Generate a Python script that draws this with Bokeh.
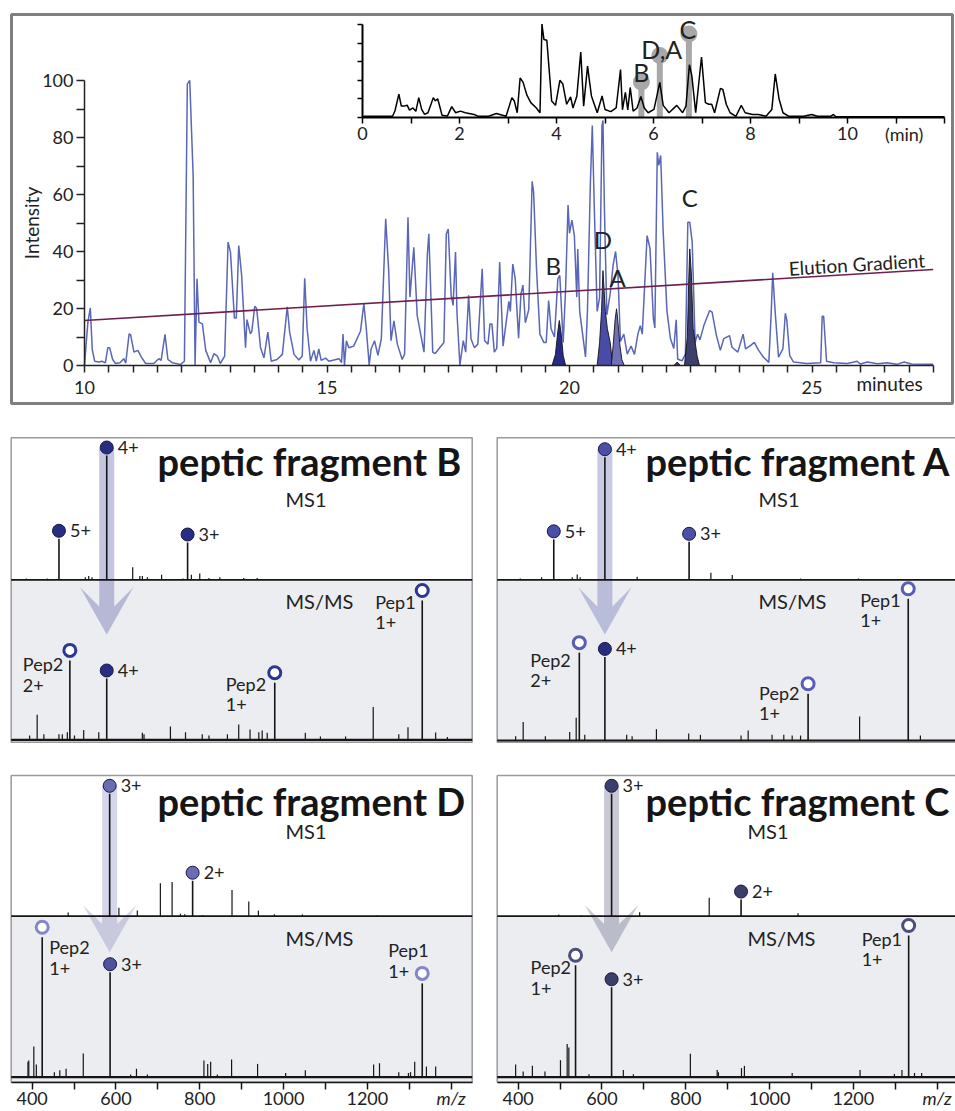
from bokeh.plotting import figure
from bokeh.models import Range1d, FixedTicker, LinearAxis
from bokeh.layouts import column, row
from bokeh.embed import file_html
from bokeh.resources import INLINE
from bokeh.core.properties import value

FONT = "Lato"
INK = "#222222"

# ---------------- chromatogram data ----------------
chrom_time = [
    10.00, 10.07, 10.12, 10.16, 10.21, 10.30, 10.36, 10.43, 10.48, 10.52,
    10.58, 10.64, 10.73, 10.81, 10.85, 10.92, 10.95, 11.02, 11.10, 11.17,
    11.26, 11.43, 11.53, 11.58, 11.66, 11.72, 11.81, 11.98, 12.06, 12.12,
    12.17, 12.24, 12.28, 12.32, 12.36, 12.43, 12.50, 12.60, 12.67, 12.74,
    12.80, 12.89, 12.96, 13.01, 13.09, 13.13, 13.18, 13.24, 13.32, 13.35,
    13.42, 13.45, 13.51, 13.55, 13.63, 13.70, 13.78, 13.85, 13.97, 14.08,
    14.18, 14.23, 14.32, 14.42, 14.49, 14.54, 14.59, 14.66, 14.73, 14.78,
    14.83, 14.88, 14.97, 15.04, 15.14, 15.25, 15.30, 15.33, 15.36, 15.40,
    15.45, 15.55, 15.69, 15.76, 15.81, 15.87, 15.91, 15.98, 16.05, 16.12,
    16.21, 16.27, 16.32, 16.38, 16.45, 16.55, 16.60, 16.67, 16.71, 16.79,
    16.86, 17.00, 17.07, 17.10, 17.18, 17.23, 17.41, 17.46, 17.50, 17.56,
    17.60, 17.65, 17.68, 17.74, 17.81, 17.86, 17.92, 17.97, 18.04, 18.11,
    18.20, 18.25, 18.32, 18.36, 18.40, 18.45, 18.50, 18.56, 18.63, 18.75,
    18.78, 18.83, 18.88, 18.95, 19.00, 19.04, 19.09, 19.16, 19.23, 19.26,
    19.32, 19.39, 19.47, 19.52, 19.57, 19.62, 19.69, 19.76, 19.80, 19.87,
    19.92, 19.97, 20.00, 20.05, 20.10, 20.15, 20.17, 20.21, 20.33, 20.37,
    20.43, 20.47, 20.51, 20.57, 20.62, 20.67, 20.69, 20.72, 20.77, 20.84,
    20.90, 20.95, 21.00, 21.05, 21.12, 21.19, 21.27, 21.34, 21.41, 21.46,
    21.50, 21.60, 21.66, 21.73, 21.76, 21.81, 21.84, 21.88, 21.93, 22.01,
    22.08, 22.15, 22.20, 22.23, 22.32, 22.39, 22.44, 22.48, 22.53, 22.59,
    22.64, 22.69, 22.77, 22.89, 22.94, 23.03, 23.11, 23.18, 23.30, 23.35,
    23.47, 23.58, 23.63, 23.73, 23.81, 23.90, 24.00, 24.11, 24.16, 24.19,
    24.24, 24.31, 24.40, 24.45, 24.48, 24.54, 24.62, 24.76, 24.89, 25.18,
    25.21, 25.24, 25.30, 25.45, 25.73, 25.93, 26.00, 26.14, 26.35, 26.55,
    26.75, 26.90, 27.05, 27.50]
chrom_int = [
    0.2, 15.2, 20.2, 5.6, 1.5, 1.2, 1.5, 0.9, 6.2, 6.2,
    2.1, 0.7, 1.0, 2.4, 0.8, 11.1, 10.8, 4.7, 5.3, 3.0,
    0.7, 0.7, 2.4, 1.8, 10.9, 2.1, 1.0, 0.4, 1.5, 98.8,
    100.0, 66.7, 0.2, 30.4, 15.2, 14.6, 5.3, 1.0, 4.2, 3.3,
    0.7, 3.3, 43.3, 39.8, 16.7, 16.7, 42.1, 31.6, 6.2, 16.1,
    11.1, 12.0, 20.8, 20.0, 6.2, 2.7, 11.7, 1.5, 2.1, 3.9,
    20.6, 11.7, 3.9, 1.9, 3.3, 30.6, 12.9, 1.5, 5.3, 1.5,
    5.8, 1.8, 2.6, 1.5, 1.9, 2.4, 1.0, 11.0, 0.2, 8.7,
    6.2, 6.8, 12.0, 21.7, 12.9, 0.2, 5.8, 8.7, 3.6, 9.3,
    51.5, 34.0, 8.7, 15.7, 7.5, 2.1, 4.0, 52.0, 24.0, 41.5,
    17.5, 4.7, 39.2, 46.2, 4.7, 4.2, 8.1, 46.2, 47.9, 24.6,
    21.1, 39.8, 18.4, 0.2, 8.7, 4.7, 24.6, 9.3, 6.2, 7.5,
    33.9, 8.7, 7.5, 14.6, 14.6, 4.7, 6.0, 36.3, 6.8, 22.5,
    19.0, 35.6, 30.6, 9.6, 25.3, 28.2, 15.0, 19.6, 64.6, 60.8,
    33.9, 11.0, 8.1, 8.1, 22.8, 12.9, 10.0, 30.4, 31.6, 8.1,
    27.1, 56.3, 46.4, 51.0, 45.6, 24.0, 40.9, 19.0, 3.0, 19.0,
    63.7, 84.2, 56.3, 19.0, 23.7, 84.2, 86.0, 55.0, 17.8, 25.3,
    35.3, 40.0, 31.6, 8.4, 11.0, 4.0, 6.8, 3.9, 11.0, 14.0,
    11.0, 45.6, 41.0, 16.4, 13.2, 74.8, 70.2, 73.7, 47.6, 19.0,
    9.6, 6.0, 16.0, 2.3, 1.6, 4.0, 50.3, 50.3, 43.3, 8.1,
    11.0, 9.0, 14.0, 19.3, 18.7, 10.5, 5.3, 9.4, 10.5, 6.4,
    4.7, 11.0, 5.8, 7.0, 8.1, 5.3, 2.9, 1.1, 19.0, 32.5,
    19.0, 2.9, 5.8, 18.3, 16.0, 3.5, 1.2, 1.0, 0.7, 1.0,
    17.3, 17.3, 1.5, 1.0, 0.7, 1.5, 0.5, 1.2, 0.6, 1.0,
    0.4, 1.2, 0.5, 0.4]
assert len(chrom_time) == len(chrom_int)

gradient_time = [10.0, 27.5]
gradient_level = [15.8, 33.7]

peak_names = ["B", "D", "A", "C"]
peakB_time = [19.64, 19.71, 19.76, 19.79, 19.83, 19.87, 19.92]
peakB_int = [0, 3.9, 12.1, 15.8, 11.0, 3.5, 0]
peakD_time = [20.57, 20.62, 20.66, 20.69, 20.74, 20.78, 20.84, 20.89]
peakD_int = [0, 8, 19, 33.3, 19, 13, 8, 0]
peakA_time = [20.86, 20.90, 20.94, 20.97, 21.00, 21.04, 21.08, 21.13]
peakA_int = [0, 7, 16, 19.9, 15, 7, 2, 0]
peakC_time = [22.37, 22.43, 22.46, 22.48, 22.51, 22.55, 22.63, 22.68]
peakC_int = [0, 10, 31, 40.9, 33, 13, 3.5, 0]
peakC_minor_time = [22.15, 22.22, 22.29]
peakC_minor_int = [0, 1.2, 0]

main_xticks = [10, 15, 20, 25]
main_xticks_minor = [10.5, 11, 11.5, 12, 12.5, 13, 13.5, 14, 14.5, 15.5, 16, 16.5, 17, 17.5,
                     18, 18.5, 19, 19.5, 20.5, 21, 21.5, 22, 22.5, 23, 23.5, 24, 24.5,
                     25.5, 26, 26.5, 27, 27.5]
main_yticks = [0, 20, 40, 60, 80, 100]
main_yticks_minor = [10, 30, 50, 70, 90]

# ---------------- inset (full run) ----------------
inset_time = [
    0.00, 0.62, 0.67, 0.75, 0.80, 0.86, 0.92, 0.97, 1.04, 1.10,
    1.16, 1.22, 1.28, 1.35, 1.42, 1.46, 1.50, 1.55, 1.60, 1.64,
    1.75, 1.84, 1.92, 2.02, 2.12, 2.30, 2.38, 2.60, 2.76, 2.96,
    3.08, 3.13, 3.19, 3.25, 3.31, 3.39, 3.47, 3.58, 3.66, 3.70,
    3.74, 3.80, 3.90, 3.98, 4.07, 4.13, 4.21, 4.29, 4.34, 4.42,
    4.50, 4.56, 4.64, 4.72, 4.84, 4.94, 5.00, 5.12, 5.23, 5.32,
    5.36, 5.42, 5.47, 5.52, 5.58, 5.66, 5.74, 5.81, 5.89, 6.01,
    6.13, 6.20, 6.32, 6.48, 6.60, 6.67, 6.74, 6.79, 6.87, 6.99,
    7.07, 7.14, 7.20, 7.26, 7.38, 7.43, 7.50, 7.58, 7.70, 7.81,
    7.89, 8.04, 8.16, 8.32, 8.44, 8.51, 8.59, 8.67, 8.79, 9.10,
    9.26, 9.38, 9.65, 9.71, 9.76, 12.00]
inset_int = [
    0.05, 0.05, 0.35, 1.25, 0.6, 0.6, 0.65, 0.38, 0.5, 0.32,
    1.06, 0.42, 0.15, 0.24, 0.75, 1.06, 0.88, 1.0, 0.51, 0.1,
    0.06, 0.57, 0.24, 0.33, 0.24, 0.15, 0.05, 0.05, 0.2, 0.05,
    1.06, 0.88, 0.24, 2.12, 1.9, 1.19, 0.79, 0.51, 0.24, 5.04,
    4.21, 4.17, 0.88, 0.64, 2.0, 1.8, 0.7, 1.1, 0.5, 1.15,
    3.53, 0.6, 2.77, 1.15, 0.24, 1.15, 0.42, 0.3, 0.5, 2.58,
    0.4, 1.34, 0.4, 1.61, 0.33, 0.5, 1.12, 0.5, 0.24, 0.42,
    1.89, 0.64, 0.24, 0.64, 0.24, 0.6, 2.84, 2.25, 0.24, 3.26,
    0.79, 0.7, 0.7, 0.24, 1.56, 1.5, 0.7, 0.24, 0.05, 0.64,
    0.24, 0.15, 0.15, 0.05, 0.42, 2.34, 0.97, 0.24, 0.05, 0.05,
    0.15, 0.05, 0.05, 0.15, 0.02, 0.02]
assert len(inset_time) == len(inset_int)

inset_mark_time = [5.75, 6.13, 6.73]
inset_mark_height = [1.9, 3.34, 4.51]
inset_mark_label = ["B", "D,A", "C"]
inset_xticks = [0, 2, 4, 6, 8, 10]
inset_xticks_minor = [1, 3, 5, 7, 9, 11, 12]
inset_yticks = [0, 1, 2, 3, 4, 5]

# ---------------- spectra data ----------------
B_ms1_mz = [386, 436, 527, 535, 543, 640, 657, 663, 675, 709, 760, 780, 800, 822, 848, 905, 937]
B_ms1_int = [1, 1, 2, 3, 2, 10, 3, 3, 2, 4, 1, 4, 5, 1.5, 2, 1.5, 1.5]
B_ms1_ion_mz = [464, 578, 771]
B_ms1_ion_int = [33, 100, 30]
B_ms1_ion_lab = ["5+", "4+", "3+"]
B_msms_mz = [394, 412, 428, 464, 472, 484, 501, 523, 559, 663, 667, 730, 766, 806, 822, 866, 893,
             920, 941, 949, 961, 1052, 1088, 1148, 1214, 1275, 1297, 1363, 1391]
B_msms_int = [3, 18, 4, 4, 4, 5.5, 3, 7, 5.5, 5, 4, 9.6, 5.5, 4, 3, 4, 11, 7.4, 5.5, 6.7, 5, 5,
              2.4, 2.4, 23.5, 4, 9, 5.3, 2]
B_msms_ion_mz = [578]
B_msms_ion_int = [44]
B_msms_ion_lab = ["4+"]
B_pep_mz = [490, 979, 1331]
B_pep_int = [57, 41, 100]
B_pep_name = ["Pep2", "Pep2", "Pep1"]
B_pep_charge = ["2+", "1+", "1+"]

A_ms1_mz = [405, 456, 529, 541, 548, 684, 860, 911, 1074, 1212]
A_ms1_int = [1, 2, 2, 4.3, 2, 2.4, 5.7, 4, 1, 1]
A_ms1_ion_mz = [485, 607, 808]
A_ms1_ion_int = [33, 100, 31]
A_ms1_ion_lab = ["5+", "4+", "3+"]
A_msms_mz = [394, 412, 465, 523, 538.5, 559, 659, 672, 730, 807, 835, 932, 949, 1006, 1034, 1054,
             1074, 1215, 1360]
A_msms_int = [3, 13, 3, 6, 16, 4, 4, 3, 8, 5, 4, 3.5, 7, 4, 4, 3.5, 3.5, 17, 3.5]
A_msms_ion_mz = [607]
A_msms_ion_int = [59]
A_msms_ion_lab = ["4+"]
A_pep_mz = [546, 1092, 1331]
A_pep_int = [62, 33, 100]
A_pep_name = ["Pep2", "Pep2", "Pep1"]
A_pep_charge = ["2+", "1+", "1+"]

D_ms1_mz = [486, 607, 651, 706, 734, 754, 764, 807, 877, 917, 940, 978, 1045, 1223]
D_ms1_int = [3, 7, 4.6, 27, 28, 2, 1.5, 1, 21.5, 12, 4.6, 1.5, 1.5, 0.5]
D_ms1_ion_mz = [585, 783]
D_ms1_ion_int = [100, 29]
D_ms1_ion_lab = ["3+", "2+"]
D_msms_mz = [390, 392, 404, 410, 453, 466, 481, 522, 635, 649, 675, 810, 819, 826, 842, 876, 938,
             1005, 1052, 1215, 1229, 1275, 1298, 1303, 1313, 1341, 1363]
D_msms_int = [11, 12, 22, 9, 3.6, 5, 6, 17, 2, 6, 2, 12, 9.5, 11, 2, 12.6, 9.5, 3, 5, 9, 10, 3.6,
              3, 3.6, 11, 7.6, 7.6]
D_msms_ion_mz = [586]
D_msms_ion_int = [75]
D_msms_ion_lab = ["3+"]
D_pep_mz = [424, 1331]
D_pep_int = [100, 67]
D_pep_name = ["Pep2", "Pep1"]
D_pep_charge = ["1+", "1+"]

C_ms1_mz = [497, 550, 690, 856, 1068]
C_ms1_int = [1.4, 0.6, 3.3, 15, 2.5]
C_ms1_ion_mz = [623, 932]
C_ms1_ion_int = [100, 13.6]
C_ms1_ion_lab = ["3+", "2+"]
C_msms_mz = [394, 412, 434, 464, 501, 517, 521, 569, 651, 675, 811, 875, 878, 933, 940, 1054, 1216,
             1298, 1316, 1346, 1363]
C_msms_int = [9, 4, 8, 4, 12, 23.5, 21, 2, 5, 2, 16.5, 5, 3.5, 6.4, 8, 3, 5, 2.3, 5, 3, 3]
C_msms_ion_mz = [623]
C_msms_ion_int = [63.5]
C_msms_ion_lab = ["3+"]
C_pep_mz = [537, 1332]
C_pep_int = [79, 100]
C_pep_name = ["Pep2", "Pep1"]
C_pep_charge = ["1+", "1+"]

mz_ticks = [400, 600, 800, 1000, 1200]
mz_ticks_minor = [500, 700, 900, 1100, 1300, 1400]
mz_axis_label = "m/z"


def style_axis(ax, tick_out, font_size, line_width=1.5, color=INK):
    ax.axis_line_width = line_width
    ax.axis_line_color = color
    ax.major_tick_in = 0
    ax.minor_tick_in = 0
    ax.major_tick_out = tick_out
    ax.minor_tick_out = tick_out
    ax.major_tick_line_width = 1.5
    ax.minor_tick_line_width = 1.5
    ax.major_tick_line_color = color
    ax.minor_tick_line_color = color
    ax.major_label_text_font = FONT
    ax.major_label_text_font_size = font_size
    ax.major_label_text_color = INK


# =============== TOP FIGURE (frame = grey bordered box) ===============
PX_MIN = 48.5      # px per minute (both time axes)
PX_INT = 2.85      # px per intensity unit
BOX_L, BOX_R, BOX_T, BOX_B = 11, 952, 14, 403     # page px of the grey box
AX_X0, AX_Y0 = 84, 365                            # page px of (10 min, 0)
INSET_X0, INSET_Y0 = 362, 116.7                   # page px of inset origin
INSET_PX = 18.47

xs0 = 10 - (AX_X0 - BOX_L) / PX_MIN
xs1 = 10 + (BOX_R - AX_X0) / PX_MIN
ys0 = -(BOX_B - AX_Y0) / PX_INT
ys1 = (AX_Y0 - BOX_T) / PX_INT
ishift = 10 + (INSET_X0 - AX_X0) / PX_MIN

top = figure(width=955, height=408, output_backend="svg", toolbar_location=None, title=None,
             x_range=Range1d(xs0, xs1), y_range=Range1d(ys0, ys1),
             min_border_left=BOX_L, min_border_right=955 - BOX_R,
             min_border_top=BOX_T, min_border_bottom=408 - BOX_B)
top.extra_x_ranges = {"ix": Range1d(xs0 - ishift, xs1 - ishift)}
top.extra_y_ranges = {"iy": Range1d(-(BOX_B - INSET_Y0) / INSET_PX, (INSET_Y0 - BOX_T) / INSET_PX)}
top.grid.visible = False
top.outline_line_color = "#7f7f7f"
top.outline_line_width = 3

xa = top.xaxis[0]
style_axis(xa, 7, "18px")
xa.fixed_location = 0
xa.ticker = FixedTicker(ticks=main_xticks, minor_ticks=main_xticks_minor)
xa.bounds = (10, 27.5)
xa.major_label_standoff = 8
ya = top.yaxis[0]
style_axis(ya, 8, "18px")
ya.fixed_location = 10
ya.ticker = FixedTicker(ticks=main_yticks, minor_ticks=main_yticks_minor)
ya.bounds = (0, 100)
ya.major_label_standoff = 3
ya.axis_label = "Intensity"
ya.axis_label_text_font = FONT
ya.axis_label_text_font_size = "19px"
ya.axis_label_text_font_style = "normal"
ya.axis_label_text_color = INK
ya.axis_label_standoff = -4

# inset axes
ixa = LinearAxis(x_range_name="ix", y_range_name="iy", fixed_location=0,
                 ticker=FixedTicker(ticks=inset_xticks, minor_ticks=inset_xticks_minor),
                 bounds=(0, 12))
style_axis(ixa, 6, "18px", line_width=2, color="black")
ixa.major_label_standoff = 4
top.add_layout(ixa, "below")
iya = LinearAxis(x_range_name="ix", y_range_name="iy", fixed_location=0,
                 ticker=FixedTicker(ticks=inset_yticks, minor_ticks=[]), bounds=(0, 5))
style_axis(iya, 5, "10px", line_width=2, color="black")
iya.major_label_text_alpha = 0
top.add_layout(iya, "left")

ik = dict(x_range_name="ix", y_range_name="iy")
top.segment(x0=inset_mark_time, y0=[0] * 3, x1=inset_mark_time, y1=inset_mark_height,
            line_color="#a8a8a8", line_width=6, **ik)
top.scatter(inset_mark_time, inset_mark_height, size=17, fill_color="#a8a8a8",
            line_color=None, **ik)
top.line(inset_time, inset_int, line_color="black", line_width=1.5, **ik)
top.text(x=[11.17], y=[-17 / INSET_PX], text=["(min)"], text_font=value(FONT),
         text_font_size="18px", text_align="center", text_baseline="middle",
         text_color=INK, **ik)
mark_off = [(0, 10), (2, 7), (-1, 5)]
top.text(x=[t + o[0] / PX_MIN for t, o in zip(inset_mark_time, mark_off)],
         y=[h + o[1] / INSET_PX for h, o in zip(inset_mark_height, mark_off)],
         text=inset_mark_label, text_font=value(FONT), text_font_size="25px",
         text_align="center", text_baseline="middle", text_color=INK, **ik)

# main chromatogram
top.line(chrom_time, chrom_int, line_color="#5a66b6", line_width=1.5)
fills = [(peakB_time, peakB_int, "#262b86"), (peakD_time, peakD_int, "#484ca6"),
         (peakA_time, peakA_int, "#7070b8"), (peakC_time, peakC_int, "#3c3e6e"),
         (peakC_minor_time, peakC_minor_int, "#3c3e6e")]
for t, v, c in fills:
    top.patch(t, v, fill_color=c, line_color="#111111", line_width=0.9)
top.line(gradient_time, gradient_level, line_color="#6d1f50", line_width=1.6)

apex = [(peakB_time, peakB_int), (peakD_time, peakD_int), (peakA_time, peakA_int),
        (peakC_time, peakC_int)]
lab_off = [(-6, 55), (0, 31), (1, 31), (0, 51)]
lx, ly = [], []
for (t, v), o in zip(apex, lab_off):
    i = v.index(max(v))
    lx.append(t[i] + o[0] / PX_MIN)
    ly.append(v[i] + o[1] / PX_INT)
top.text(x=lx, y=ly, text=peak_names, text_font=value(FONT), text_font_size="24px",
         text_align="center", text_baseline="middle", text_color=INK)

gx = 24.52
gy = gradient_level[0] + (gx - gradient_time[0]) / (gradient_time[1] - gradient_time[0]) * (
    gradient_level[1] - gradient_level[0]) + 10 / PX_INT
top.text(x=[gx], y=[gy], text=["Elution Gradient"], angle=0.06, text_font=value(FONT),
         text_font_size="19px", text_align="left", text_baseline="middle", text_color=INK)
top.text(x=[26.6], y=[-18 / PX_INT], text=["minutes"], text_font=value(FONT),
         text_font_size="19px", text_align="center", text_baseline="middle", text_color=INK)

# =============== SPECTRA PANELS ===============
KX = 0.419     # px per m/z unit
MZ0 = 350.0    # m/z at the left border of every panel


def build_panel(d, g, axis):
    cl, cr, ct, cb = g["canvas"]
    L, R, T, Bm = g["box"]
    div, base = g["div"], g["base"]
    k1, k2 = g["k1"], g["k2"]

    def X(px):
        return MZ0 + (px - L) / KX

    def Y1(py):
        return (div - py) / k1

    def Y2(py):
        return (base - py) / k2

    p = figure(width=cr - cl, height=cb - ct, output_backend="svg", toolbar_location=None,
               title=None, x_range=Range1d(X(cl), X(cr)), y_range=Range1d(Y2(cb), Y2(ct)),
               min_border=0, min_border_left=0, min_border_right=0, min_border_top=0,
               min_border_bottom=0, x_axis_location="below" if axis else None,
               y_axis_location=None)
    p.extra_y_ranges = {"ms1": Range1d(Y1(cb), Y1(ct))}
    p.grid.visible = False
    p.outline_line_color = None
    m1 = dict(y_range_name="ms1")
    xl, xr = X(L), X(R)

    # MS/MS background and panel border
    p.quad(left=[xl], right=[xr], top=[0], bottom=[Y1(Bm)], fill_color="#ebedf0",
           line_color=None, **m1)
    p.quad(left=[xl], right=[xr], top=[Y1(T)], bottom=[Y1(Bm)], fill_color=None,
           line_color="#9a9a9a", line_width=1.5, **m1)
    # arrow from precursor (MS1) to MS/MS
    pi = d["ms1_ion_int"].index(max(d["ms1_ion_int"]))
    pmz = d["ms1_ion_mz"][pi]
    ptop = d["ms1_ion_int"][pi] + 8 / k1
    tip = Y1(g["tip"])
    hw, sw, hl, notch = 26.7, 7.5, 47.3, 28.1
    ax_ = [pmz - sw / KX, pmz - sw / KX, pmz - hw / KX, pmz, pmz + hw / KX, pmz + sw / KX,
           pmz + sw / KX]
    ay_ = [ptop, tip + notch / k1, tip + hl / k1, tip, tip + hl / k1, tip + notch / k1, ptop]
    p.patch(ax_, ay_, fill_color=d["arrow"], fill_alpha=0.3, line_color=None, **m1)
    # baselines
    p.line([xl, xr], [0, 0], line_color="#151515", line_width=1.8, **m1)
    p.line([xl, xr], [0, 0], line_color="#151515", line_width=2.2)
    # MS1 peaks
    p.segment(x0=d["ms1_mz"], y0=[0] * len(d["ms1_mz"]), x1=d["ms1_mz"], y1=d["ms1_int"],
              line_color="#151515", line_width=1.2, **m1)
    p.segment(x0=d["ms1_ion_mz"], y0=[0] * len(d["ms1_ion_mz"]), x1=d["ms1_ion_mz"],
              y1=d["ms1_ion_int"], line_color="#151515", line_width=1.6, **m1)
    # MS/MS peaks
    p.segment(x0=d["msms_mz"], y0=[0] * len(d["msms_mz"]), x1=d["msms_mz"], y1=d["msms_int"],
              line_color="#151515", line_width=1.2)
    p.segment(x0=d["msms_ion_mz"], y0=[0] * len(d["msms_ion_mz"]), x1=d["msms_ion_mz"],
              y1=d["msms_ion_int"], line_color="#151515", line_width=1.6)
    p.segment(x0=d["pep_mz"], y0=[0] * len(d["pep_mz"]), x1=d["pep_mz"], y1=d["pep_int"],
              line_color="#151515", line_width=1.6)
    # markers
    c1y = [v + 8 / k1 for v in d["ms1_ion_int"]]
    p.scatter(d["ms1_ion_mz"], c1y, size=13, fill_color=d["fill1"], line_color="#161a46",
              line_width=1, **m1)
    c2y = [v + 8 / k2 for v in d["msms_ion_int"]]
    p.scatter(d["msms_ion_mz"], c2y, size=13, fill_color=d["fill2"], line_color="#161a46",
              line_width=1)
    c3y = [v + 10 / k2 for v in d["pep_int"]]
    p.scatter(d["pep_mz"], c3y, size=12, fill_color="white", line_color=d["ring"],
              line_width=3)
    tf = dict(text_font=value(FONT), text_color=INK, text_baseline="middle", text_align="left")
    p.text(x=[m + 11 / KX for m in d["ms1_ion_mz"]], y=c1y, text=d["ms1_ion_lab"],
           text_font_size="18px", **tf, **m1)
    p.text(x=[m + 11 / KX for m in d["msms_ion_mz"]], y=c2y, text=d["msms_ion_lab"],
           text_font_size="18px", **tf)
    px_, py_, pt_ = [], [], []
    for m, y, nm, ch, o in zip(d["pep_mz"], c3y, d["pep_name"], d["pep_charge"], d["pep_off"]):
        px_ += [m + o[0] / KX, m + o[0] / KX]
        py_ += [y - o[1] / k2, y - (o[1] + 21) / k2]
        pt_ += [nm, ch]
    p.text(x=px_, y=py_, text=pt_, text_font_size="18px", **tf)
    # headings
    tx, ty = d["title_pos"]
    p.text(x=[X(tx)], y=[Y1(ty)], text=[d["title"]], text_font=value(FONT),
           text_font_size="38px", text_font_style="bold", text_color="#151515",
           text_align="left", text_baseline="middle", **m1)
    (mx1, my1), (mx2, my2) = d["ms_pos"]
    p.text(x=[X(mx1), X(mx2)], y=[Y1(my1), Y1(my2)], text=["MS1", "MS/MS"],
           text_font_size="20px", **tf, **m1)
    if axis:
        a = p.xaxis[0]
        style_axis(a, 7, "18px", color="#151515")
        a.fixed_location = Y2(Bm)
        a.bounds = (xl, xr)
        a.ticker = FixedTicker(ticks=mz_ticks, minor_ticks=mz_ticks_minor)
        a.major_label_standoff = 3
        p.text(x=[mz_ticks_minor[-1]], y=[Y2(Bm + 16)], text=[mz_axis_label],
               text_font=value(FONT), text_font_size="18px", text_font_style="italic",
               text_align="center", text_baseline="middle", text_color=INK)
    return p


def pdata(prefix, title, title_pos, ms_pos, fill1, fill2, ring, arrow, pep_off):
    g = globals()
    return dict(ms1_mz=g[prefix + "_ms1_mz"], ms1_int=g[prefix + "_ms1_int"],
                ms1_ion_mz=g[prefix + "_ms1_ion_mz"], ms1_ion_int=g[prefix + "_ms1_ion_int"],
                ms1_ion_lab=g[prefix + "_ms1_ion_lab"],
                msms_mz=g[prefix + "_msms_mz"], msms_int=g[prefix + "_msms_int"],
                msms_ion_mz=g[prefix + "_msms_ion_mz"],
                msms_ion_int=g[prefix + "_msms_ion_int"],
                msms_ion_lab=g[prefix + "_msms_ion_lab"],
                pep_mz=g[prefix + "_pep_mz"], pep_int=g[prefix + "_pep_int"],
                pep_name=g[prefix + "_pep_name"], pep_charge=g[prefix + "_pep_charge"],
                title=title, title_pos=title_pos, ms_pos=ms_pos, fill1=fill1, fill2=fill2,
                ring=ring, arrow=arrow, pep_off=pep_off)


# layout geometry in page pixels: canvas (l, r, t, b), panel box (l, r, t, b)
gB = dict(canvas=(0, 484, 408, 758), box=(10.7, 471.7, 437.3, 741.7), div=579.3, base=739.3,
          tip=634, k1=1.243, k2=1.393)
gA = dict(canvas=(484, 955, 408, 758), box=(496.7, 958, 437.3, 741.7), div=579.3, base=740,
          tip=634, k1=1.226, k2=1.417)
gD = dict(canvas=(0, 484, 758, 1111), box=(10.7, 471.7, 775, 1081.7), div=915.7, base=1076.7,
          tip=951.7, k1=1.224, k2=1.40)
gC = dict(canvas=(484, 955, 758, 1111), box=(496.7, 958, 775, 1081.7), div=915.7, base=1076.7,
          tip=951.7, k1=1.224, k2=1.417)

dB = pdata("B", "peptic fragment B", (157, 460), ((285, 498), (285, 600)),
           "#262d83", "#262d83", "#2c3694", "#3a3f99", [(-47, 14), (-49, 11), (-47, 11)])
dA = pdata("A", "peptic fragment A", (645, 460), ((758, 498), (758, 600)),
           "#4c4fa7", "#272c7e", "#5a5cba", "#4a4ea6", [(-49, 17), (-49, 9), (-48, 11)])
dD = pdata("D", "peptic fragment D", (157, 800), ((285, 830), (285, 937)),
           "#6b6cb2", "#50529c", "#8586c9", "#7777bb", [(7, 20), (-34, -23)])
dC = pdata("C", "peptic fragment C", (645, 800), ((747, 830), (747, 937)),
           "#3b3d6b", "#3b3d6b", "#4c4e7c", "#4a4c70", [(-45, 12), (-47, 13)])

pB = build_panel(dB, gB, False)
pA = build_panel(dA, gA, False)
pD = build_panel(dD, gD, True)
pC = build_panel(dC, gC, True)

layout = column(top, row(pB, pA), row(pD, pC))
open("out.html", "w").write(file_html(layout, INLINE))
